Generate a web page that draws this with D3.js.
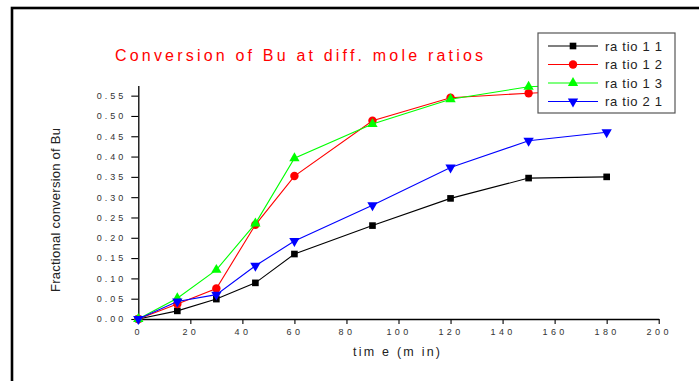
<!DOCTYPE html>
<html>
<head>
<meta charset="utf-8">
<script src="https://cdn.jsdelivr.net/npm/d3@7"></script>
<style>
  body { margin: 0; background: #fff; }
  svg { display: block; font-family: "Liberation Sans", Arial, sans-serif; }
</style>
</head>
<body>
<svg id="chart" width="699" height="381"></svg>
<script>
// time points (min)
const times = [0, 15, 30, 45, 60, 90, 120, 150, 180]

// fractional conversion
const ratio11 = [0, 0.020, 0.049, 0.089, 0.160, 0.230, 0.297, 0.347, 0.350]
const ratio12 = [0, 0.037, 0.075, 0.232, 0.352, 0.488, 0.545, 0.556, 0.565]
const ratio13 = [0, 0.051, 0.121, 0.235, 0.396, 0.480, 0.541, 0.572, 0.580]
const ratio21 = [0, 0.043, 0.060, 0.131, 0.192, 0.280, 0.373, 0.439, 0.460]

const seriesNames = ["ra tio 1 1", "ra tio 1 2", "ra tio 1 3", "ra tio 2 1"]
const seriesValues = [ratio11, ratio12, ratio13, ratio21]
const seriesColors = ["#000000", "#ff0000", "#00ff00", "#0000ff"]

const yTicks = [0, 0.05, 0.10, 0.15, 0.20, 0.25, 0.30, 0.35, 0.40, 0.45, 0.50, 0.55]
const xTicks = [0, 20, 40, 60, 80, 100, 120, 140, 160, 180, 200]

const svg = d3.select("#chart")

// outer frame (only left and top edges show in the picture)
svg.append("rect")
  .attr("x", 12).attr("y", 8)
  .attr("width", 720).attr("height", 420)
  .attr("fill", "none")
  .attr("stroke", "#000")
  .attr("stroke-width", 2.6)

const x = d3.scaleLinear().domain([0, 200]).range([138.3, 658.7])
const y = d3.scaleLinear().domain([0, 0.575]).range([319, 85.5])

//minor ticks first, majors over them
const yMinor = d3.range(0.025, 0.58, 0.05)
const xMinor = d3.range(10, 200, 20)

const gy = svg.append("g").attr("transform", `translate(${x(0)},0)`)
gy.call(d3.axisLeft(y).tickValues(yMinor).tickSize(3.5).tickFormat(""))
gy.call(d3.axisLeft(y).tickValues(yTicks).tickSize(7).tickSizeOuter(0).tickFormat(d3.format(".2f")))
gy.selectAll("text")
  .attr("x", -12)
  .attr("font-size", 9)
  .attr("letter-spacing", 3)
  .attr("fill", "#333")

const gx = svg.append("g").attr("transform", `translate(0,${y(0)})`)
gx.call(d3.axisBottom(x).tickValues(xMinor).tickSize(3).tickFormat(""))
gx.call(d3.axisBottom(x).tickValues(xTicks).tickSize(5).tickSizeOuter(0))
gx.selectAll("text")
  .attr("y", 10)
  .attr("font-size", 9)
  .attr("letter-spacing", 3.4)
  .attr("fill", "#333")

svg.selectAll(".domain").attr("stroke", "#000").attr("stroke-width", 1.3)
svg.selectAll(".tick line").attr("stroke", "#000").attr("stroke-width", 1.1)

// titles
svg.append("text")
  .attr("x", 115).attr("y", 61)
  .attr("font-size", 16)
  .attr("fill", "#ff0000")
  .attr("textLength", 368)
  .attr("lengthAdjust", "spacing")
  .text("Conversion of Bu at diff. mole ratios")

svg.append("text")
  .attr("x", 353).attr("y", 356)
  .attr("font-size", 12.5)
  .attr("fill", "#222")
  .attr("textLength", 87)
  .attr("lengthAdjust", "spacing")
  .text("tim e (m in)")

svg.append("text")
  .attr("transform", "translate(60,292) rotate(-90)")
  .attr("font-size", 13)
  .attr("fill", "#222")
  .attr("textLength", 164)
  .attr("lengthAdjust", "spacing")
  .text("Fractional conversion of Bu")

// marker shapes per series
const symbols = [
  d3.symbol().type(d3.symbolSquare).size(44),
  d3.symbol().type(d3.symbolCircle).size(56),
  d3.symbol().type(d3.symbolTriangle).size(46),
  d3.symbol().type(d3.symbolTriangle).size(46)
]
const rotations = [0, 0, 0, 180]

const line = d3.line()
  .x(d => x(d[0]))
  .y(d => y(d[1]))

seriesValues.forEach((vals, i) => {
  const pts = times.map((t, j) => [t, vals[j]])
  const g = svg.append("g")
  g.append("path")
    .datum(pts)
    .attr("d", line)
    .attr("fill", "none")
    .attr("stroke", seriesColors[i])
    .attr("stroke-width", 1.1)
  g.selectAll("path.mark")
    .data(pts)
    .join("path")
    .attr("class", "mark")
    .attr("d", symbols[i])
    .attr("transform", d => `translate(${x(d[0])},${y(d[1])}) rotate(${rotations[i]})`)
    .attr("fill", seriesColors[i])
})

// legend box, opaque so it hides the tail of the top curves
const legend = svg.append("g")
legend.append("rect")
  .attr("x", 538).attr("y", 33)
  .attr("width", 137).attr("height", 80)
  .attr("fill", "#fff")
  .attr("stroke", "#555")
  .attr("stroke-width", 1.2)

seriesNames.forEach((name, i) => {
  const ry = 46 + i * 18.5
  legend.append("line")
    .attr("x1", 548).attr("x2", 598)
    .attr("y1", ry).attr("y2", ry)
    .attr("stroke", seriesColors[i])
    .attr("stroke-width", 1.1)
  legend.append("path")
    .attr("d", symbols[i])
    .attr("transform", `translate(573,${ry}) rotate(${rotations[i]})`)
    .attr("fill", seriesColors[i])
  legend.append("text")
    .attr("x", 605).attr("y", ry + 4.6)
    .attr("font-size", 13)
    .attr("fill", "#222")
    .attr("textLength", 57)
    .attr("lengthAdjust", "spacing")
    .text(name)
})
</script>
</body>
</html>
